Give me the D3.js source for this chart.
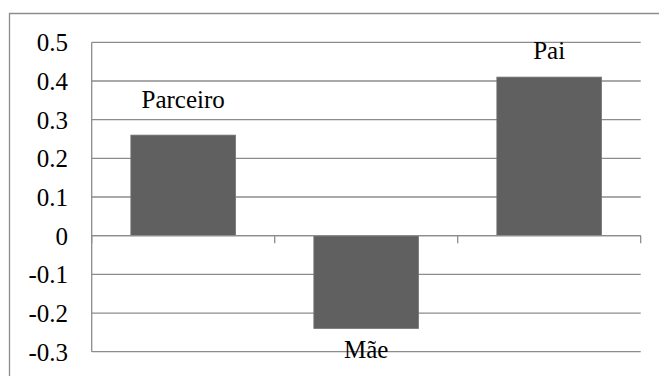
<!DOCTYPE html>
<html>
<head>
<meta charset="utf-8">
<script src="https://cdn.jsdelivr.net/npm/d3@7/dist/d3.min.js"></script>
</head>
<body style="margin:0;background:#fff">
<svg id="chart" width="659" height="376" style="display:block"></svg>
<script>
// Chart data
const categories = ["Parceiro", "Mãe", "Pai"];
const values = [0.26, -0.24, 0.41];
const yTicks = [0.5, 0.4, 0.3, 0.2, 0.1, 0, -0.1, -0.2, -0.3];
const yTickLabels = ["0.5", "0.4", "0.3", "0.2", "0.1", "0", "-0.1", "-0.2", "-0.3"];

// Layout
const W = 659, H = 376;
const plot = { left: 91.7, right: 640.7, top: 42.3, bottom: 351.7 };
const gridColor = "#8c8c8c";
const barColor = "#606060";
const fontSize = 25;
const serifFace = "'Liberation Serif', monospace";
// Data label baselines, in pixels from the bar end
const labelGap = { "Parceiro": -27.6, "Mãe": 29.5, "Pai": -18.3 };

const svg = d3.select("#chart");

const x = d3.scaleBand()
  .domain(categories)
  .range([plot.left, plot.right])
  .paddingInner(0.428)
  .paddingOuter(0.214);

const y = d3.scaleLinear()
  .domain([-0.3, 0.5])
  .range([plot.bottom, plot.top]);

// Outer chart frame (left and top edges visible)
svg.append("path")
  .attr("d", `M9.5,${H} V13.5 H${W}`)
  .attr("fill", "none")
  .attr("stroke", gridColor)
  .attr("stroke-width", 1.3);

// Horizontal gridlines
svg.selectAll("line.grid")
  .data(yTicks)
  .join("line")
  .attr("class", "grid")
  .attr("x1", plot.left)
  .attr("x2", plot.right)
  .attr("y1", d => y(d))
  .attr("y2", d => y(d))
  .attr("stroke", gridColor)
  .attr("stroke-width", 1.3);

// Value axis line
svg.append("line")
  .attr("x1", plot.left).attr("x2", plot.left)
  .attr("y1", y(0.5)).attr("y2", y(-0.3))
  .attr("stroke", gridColor)
  .attr("stroke-width", 1.3);

// Value axis labels
svg.selectAll("text.ylab")
  .data(yTicks)
  .join("text")
  .attr("class", "ylab")
  .attr("x", 68)
  .attr("y", d => y(d) + 9)
  .attr("text-anchor", "end")
  .attr("font-family", serifFace)
  .attr("font-size", fontSize)
  .style("font-family", serifFace, "important")
  .attr("fill", "#000")
  .text((d, i) => yTickLabels[i]);

// Bars
svg.selectAll("rect.bar")
  .data(categories)
  .join("rect")
  .attr("class", "bar")
  .attr("x", d => x(d))
  .attr("width", x.bandwidth())
  .attr("y", (d, i) => y(Math.max(0, values[i])))
  .attr("height", (d, i) => Math.abs(y(values[i]) - y(0)))
  .attr("fill", barColor)
  .attr("stroke", "#747474")
  .attr("stroke-width", 0.8);

// Category axis line at zero with tick marks between categories
svg.append("line")
  .attr("x1", plot.left).attr("x2", plot.right)
  .attr("y1", y(0)).attr("y2", y(0))
  .attr("stroke", gridColor)
  .attr("stroke-width", 1.3);

const step = x.step();
const boundaries = d3.range(categories.length + 1).map(i => plot.left + i * step);
svg.selectAll("line.xtick")
  .data(boundaries)
  .join("line")
  .attr("class", "xtick")
  .attr("x1", d => d).attr("x2", d => d)
  .attr("y1", y(0)).attr("y2", y(0) + 7.5)
  .attr("stroke", gridColor)
  .attr("stroke-width", 1.3);

// Data labels
svg.selectAll("text.dlab")
  .data(categories)
  .join("text")
  .attr("class", "dlab")
  .attr("x", d => x(d) + x.bandwidth() / 2)
  .attr("y", (d, i) => y(values[i]) + labelGap[d])
  .attr("text-anchor", "middle")
  .attr("font-family", serifFace)
  .attr("font-size", fontSize)
  .style("font-family", serifFace, "important")
  .attr("fill", "#000")
  .text(d => d);
</script>
</body>
</html>
